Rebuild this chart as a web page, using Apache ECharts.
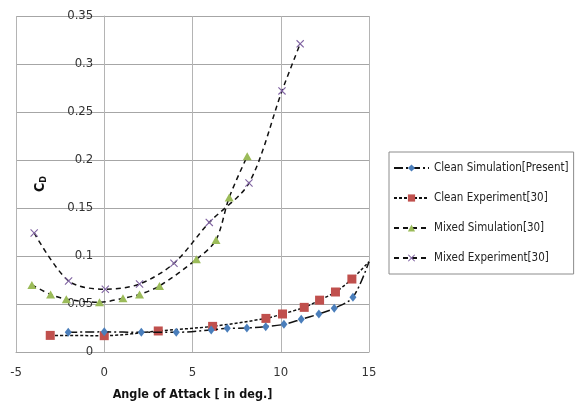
<!DOCTYPE html>
<html>
<head>
<meta charset="utf-8">
<script src="https://cdn.jsdelivr.net/npm/echarts@6/dist/echarts.min.js"></script>
<style>html,body{margin:0;padding:0;background:#fff;}#c{width:575px;height:409px;}</style>
</head>
<body>
<div id="c"></div>
<script>
var FONT = "'Liberation Sans Narrow','DejaVu Sans Condensed','Liberation Sans',sans-serif";
var seriesNames = ['Clean Simulation[Present]', 'Clean Experiment[30]', 'Mixed Simulation[30]', 'Mixed Experiment[30]'];
var cleanSimX = [-2.04, 0.0, 2.1, 4.08, 6.06, 6.97, 8.08, 9.15, 10.18, 11.16, 12.16, 13.03, 14.09, 15.0];
var cleanSimY = [0.0205, 0.021, 0.0205, 0.0205, 0.023, 0.0247, 0.025, 0.0264, 0.0288, 0.034, 0.0396, 0.0455, 0.057, 0.094];
var cleanExpX = [-3.06, 0.0, 3.06, 6.14, 9.16, 10.1, 11.33, 12.2, 13.1, 14.03, 15.0];
var cleanExpY = [0.0173, 0.017, 0.0219, 0.0267, 0.035, 0.0396, 0.0465, 0.054, 0.0625, 0.076, 0.094];
var mixedSimX = [-4.1, -3.04, -2.15, -0.27, 1.06, 2.0, 3.13, 5.22, 6.33, 7.08, 8.1];
var mixedSimY = [0.0698, 0.06, 0.055, 0.0517, 0.056, 0.06, 0.0688, 0.0965, 0.1167, 0.161, 0.204];
var mixedExpX = [-3.97, -2.02, 0.06, 2.0, 3.95, 5.95, 8.2, 10.07, 11.1];
var mixedExpY = [0.124, 0.074, 0.0653, 0.0708, 0.0924, 0.135, 0.176, 0.272, 0.321];
var xTicks = [-5, 0, 5, 10, 15];
var yTicks = [0, 0.05, 0.1, 0.15, 0.2, 0.25, 0.3, 0.35];

function pairs(xs, ys, hideEnd) {
  return xs.map(function (x, i) {
    var p = { value: [x, ys[i]] };
    if (hideEnd && x === 15) { p.symbol = 'none'; }
    return p;
  });
}
var X_PATH = 'path://M0,1 L1,0 L5,4 L9,0 L10,1 L6,5 L10,9 L9,10 L5,6 L1,10 L0,9 L4,5 Z';
var chart = echarts.init(document.getElementById('c'));
var GRID_LEFT = 16, GRID_RIGHT = 206;
var plotW = 575 - GRID_LEFT - GRID_RIGHT;
// horizontal offset (inward) so that the value axis sits on x = 0
var yAxisShift = plotW * (0 - xTicks[0]) / (xTicks[xTicks.length - 1] - xTicks[0]);
chart.setOption({
  animation: false,
  backgroundColor: '#fff',
  grid: { left: GRID_LEFT, right: GRID_RIGHT, top: 16, bottom: 57, containLabel: false, outerBoundsMode: 'none' },
  legend: {
    orient: 'vertical', left: 389, top: 152,
    padding: [10, 5, 10, 4], itemGap: 18, itemWidth: 35, itemHeight: 9,
    borderColor: '#8c8c8c', borderWidth: 1,
    textStyle: { fontFamily: FONT, fontSize: 11.5, color: '#222' },
    data: seriesNames
  },
  xAxis: {
    type: 'value', min: -5, max: 15, interval: 5,
    axisLine: { show: true, lineStyle: { color: '#a6a6a6' } },
    axisTick: { show: false },
    axisLabel: { margin: 14, fontFamily: FONT, fontSize: 13, color: '#333',
      formatter: function (v) { return xTicks.indexOf(v) >= 0 ? String(v) : ''; } },
    splitLine: { show: true, lineStyle: { color: '#b4b4b4' } },
    name: 'Angle of Attack [ in deg.]', nameLocation: 'middle', nameGap: 36,
    nameTextStyle: { fontFamily: FONT, fontSize: 12.5, fontWeight: 'bold', color: '#111' }
  },
  yAxis: {
    type: 'value', min: 0, max: 0.35, interval: 0.05,
    offset: -yAxisShift,
    axisLine: { show: true, onZero: false, lineStyle: { color: '#b4b4b4' } },
    axisTick: { show: false },
    axisLabel: { margin: 11, fontFamily: FONT, fontSize: 13, color: '#333',
      formatter: function (v) {
        for (var i = 0; i < yTicks.length; i++) { if (Math.abs(yTicks[i] - v) < 1e-9) return String(yTicks[i]); }
        return '';
      } },
    splitLine: { show: true, lineStyle: { color: '#a6a6a6' } },
    name: 'C{s|D}', nameLocation: 'middle', nameGap: 56, nameRotate: 90,
    nameTextStyle: { fontFamily: FONT, fontSize: 14, fontWeight: 'bold', color: '#111',
      rich: { s: { fontFamily: FONT, fontSize: 9, fontWeight: 'bold', verticalAlign: 'bottom', padding: [6, 0, 0, 0] } } }
  },
  series: [
    { name: seriesNames[0], type: 'line', smooth: 0.3, data: pairs(cleanSimX, cleanSimY, true),
      symbol: 'diamond', symbolSize: [7, 9], itemStyle: { color: '#4a7ebb' },
      lineStyle: { color: '#111', width: 1.5, type: [9, 3, 2, 3] }, z: 4 },
    { name: seriesNames[1], type: 'line', smooth: 0.3, data: pairs(cleanExpX, cleanExpY, true),
      symbol: 'rect', symbolSize: 9, itemStyle: { color: '#c0504d' },
      lineStyle: { color: '#111', width: 1.5, type: [3, 2] }, z: 3 },
    { name: seriesNames[2], type: 'line', smooth: 0.3, data: pairs(mixedSimX, mixedSimY, false),
      symbol: 'triangle', symbolSize: [9, 8], itemStyle: { color: '#9bbb59' },
      lineStyle: { color: '#111', width: 1.5, type: [5, 4] }, z: 3 },
    { name: seriesNames[3], type: 'line', smooth: 0.3, data: pairs(mixedExpX, mixedExpY, false),
      symbol: X_PATH, symbolSize: 8, itemStyle: { color: '#8064a2' },
      lineStyle: { color: '#111', width: 1.5, type: [5, 4] }, z: 3 }
  ]
});
</script>
</body>
</html>
